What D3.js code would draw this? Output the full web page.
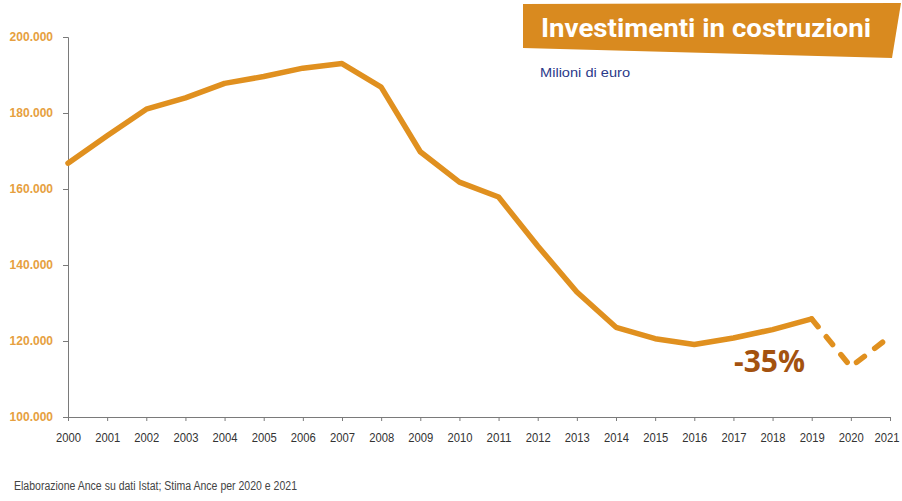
<!DOCTYPE html>
<html><head><meta charset="utf-8">
<script src="https://cdn.jsdelivr.net/npm/d3@7"></script>
<style>body{margin:0;background:#fff}svg{display:block}</style>
</head><body>
<script>
const years = [2000,2001,2002,2003,2004,2005,2006,2007,2008,2009,2010,2011,2012,2013,2014,2015,2016,2017,2018,2019,2020,2021];
const values = [166.8,174.0,181.0,184.0,187.8,189.6,191.8,193.0,186.8,169.8,161.8,157.9,145.0,132.9,123.6,120.6,119.1,120.8,123.0,125.8,113.2,121.2];
const estimateFrom = 2019;
const yTicks = [100,120,140,160,180,200];
const title = "Investimenti in costruzioni";
const subtitle = "Milioni di euro";
const note = "Elaborazione Ance su dati Istat; Stima Ance per 2020 e 2021";
const changeLabel = "-35%";

const W = 902, H = 501;
const svg = d3.select("body").append("svg").attr("width", W).attr("height", H);

const x = d3.scaleLinear().domain([2000, 2021]).range([68, 890]);
const y = d3.scaleLinear().domain([100, 200]).range([417, 37]);
const orange = "#E0901F";

// Y axis
const yAxis = svg.append("g").attr("transform", "translate(68,0)")
  .call(d3.axisLeft(y).tickValues(yTicks).tickSize(5).tickPadding(10)
    .tickFormat(d => d + ".000"));
yAxis.selectAll("text")
  .attr("fill", "#E6A040").attr("font-family", "Liberation Sans, Arial, sans-serif")
  .attr("font-weight", "bold").attr("font-size", 12);
yAxis.selectAll("line,path").attr("stroke", "#7a7a7a");

// X axis
const xAxis = svg.append("g").attr("transform", "translate(0,417)")
  .call(d3.axisBottom(x).tickValues(years).tickSize(4).tickPadding(10).tickSizeOuter(4).tickFormat(d3.format("d")));
xAxis.selectAll("text").attr("fill", "#333").attr("font-family", "Liberation Sans, Arial, sans-serif")
  .attr("font-size", 12.5).attr("dy", "0.85em")
  .attr("textLength", 25).attr("lengthAdjust", "spacingAndGlyphs")
  .attr("dx", d => d === 2021 ? -3.5 : 0);
xAxis.selectAll("line,path").attr("stroke", "#7a7a7a");

const data = years.map((yr, i) => ({yr, v: values[i]}));
const line = d3.line().x(d => x(d.yr)).y(d => y(d.v));

svg.append("path").datum(data.filter(d => d.yr <= estimateFrom))
  .attr("d", line).attr("fill", "none").attr("stroke", orange)
  .attr("stroke-width", 5.5).attr("stroke-linejoin", "round").attr("stroke-linecap", "round");

svg.append("path").datum(data.filter(d => d.yr >= estimateFrom))
  .attr("d", line).attr("fill", "none").attr("stroke", orange)
  .attr("stroke-width", 5.5).attr("stroke-linecap", "round")
  .attr("stroke-dasharray", "10 13");

// -35% label
svg.append("text").attr("x", x(2018) - 3).attr("y", 372).attr("text-anchor", "middle")
  .attr("font-family", "Open Sans, Lato, sans-serif").attr("font-weight", "bold")
  .attr("font-size", 30).attr("fill", "#A3520F").text(changeLabel);

// Title box
svg.append("path").attr("d", "M523,4 L901,3 L892,58 L523,48 Z").attr("fill", "#D98A1F");
svg.append("text").attr("x", 541).attr("y", 37).attr("fill", "#fff")
  .attr("font-family", "Roboto, Open Sans, sans-serif").attr("font-weight", "bold")
  .attr("font-size", 25).attr("textLength", 330).attr("lengthAdjust", "spacingAndGlyphs").text(title);
svg.append("text").attr("x", 540).attr("y", 77).attr("fill", "#2B3A8A")
  .attr("font-family", "Liberation Sans, Arial, sans-serif")
  .attr("font-size", 13).attr("textLength", 90).attr("lengthAdjust", "spacingAndGlyphs").text(subtitle);

// Footnote
svg.append("text").attr("x", 14).attr("y", 490).attr("fill", "#444")
  .attr("font-family", "Liberation Sans, Arial, sans-serif")
  .attr("font-size", 12).attr("textLength", 283).attr("lengthAdjust", "spacingAndGlyphs").text(note);
</script>
</body></html>
